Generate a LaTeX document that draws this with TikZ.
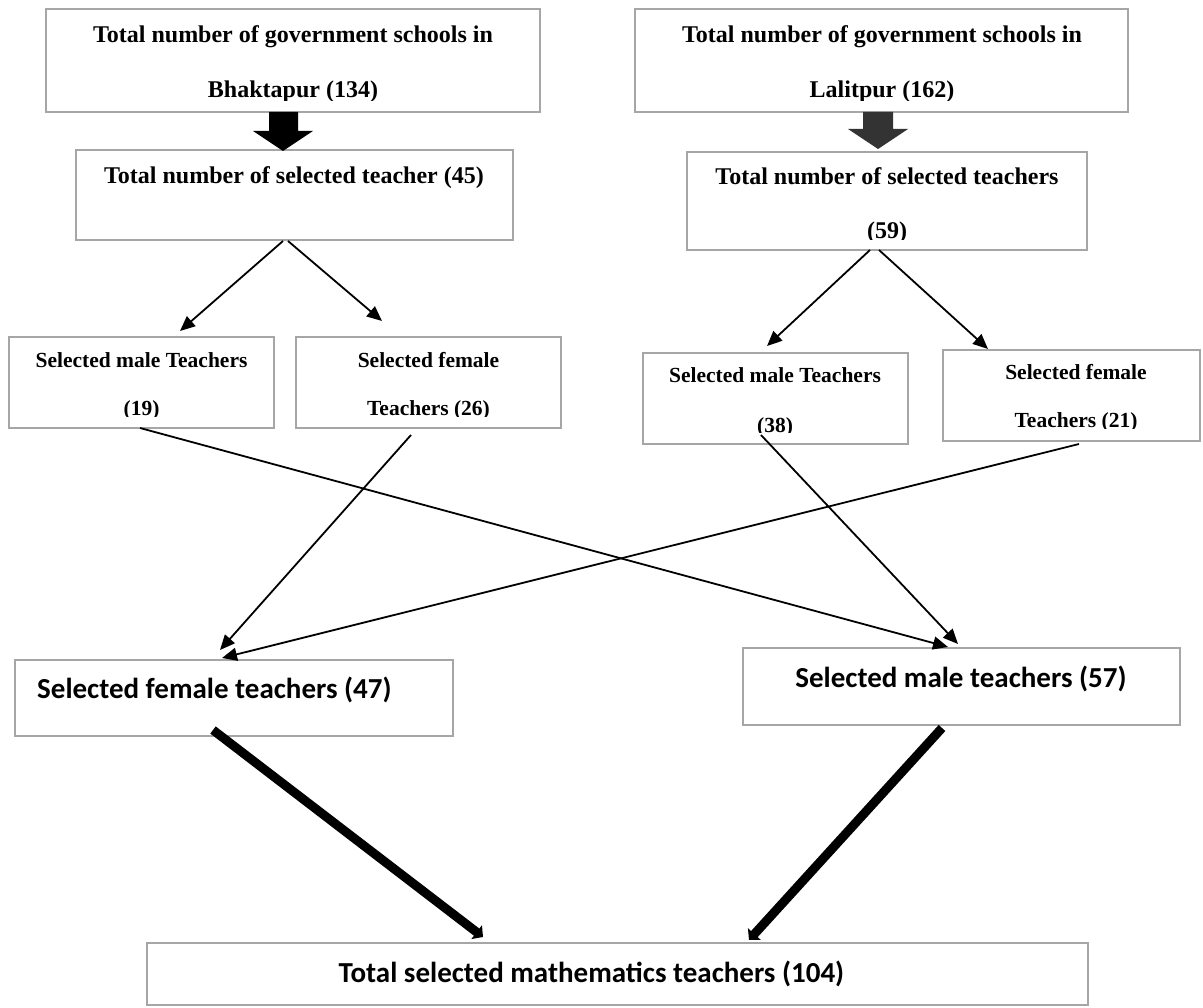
\documentclass[tikz,border=0pt]{standalone}
\usepackage{fontspec}
\usetikzlibrary{arrows.meta,calc}
\newfontfamily\tnrfont{Liberation Serif}
\newfontfamily\calfont{Carlito}
\definecolor{boxgray}{HTML}{A6A6A6}
\definecolor{darkarrow}{HTML}{333333}
\begin{document}
\begin{tikzpicture}[x=1pt,y=-1pt,
  box/.style={draw=boxgray,line width=2pt,inner sep=0pt,outer sep=0pt,anchor=north west},
  tl/.style={anchor=base,inner sep=0pt,font=\tnrfont\bfseries\fontsize{24}{24}\selectfont},
  sl/.style={anchor=base,inner sep=0pt,font=\tnrfont\bfseries\fontsize{21.5}{21.5}\selectfont},
  cl/.style={anchor=base,inner sep=0pt,font=\calfont\bfseries\fontsize{29}{29}\selectfont},
  thinarrow/.style={line width=1.8pt,-{Triangle[length=15pt,width=13pt]}},
  thickarrow/.style={line width=9pt,-{Triangle[length=8pt,width=17pt]}}
]
\fill[white] (0,0) rectangle (1203,1008);
\useasboundingbox (0,0) rectangle (1203,1008);

% ---------- boxes ----------
\node[box,minimum width=494pt,minimum height=103pt] (A) at (46,9) {};
\node[box,minimum width=493pt,minimum height=103pt] (C) at (635,9) {};
\node[box,minimum width=437pt,minimum height=90pt] (B) at (76,150) {};
\node[box,minimum width=400pt,minimum height=98pt] (D) at (687,152) {};
\node[box,minimum width=265pt,minimum height=91pt] (E) at (9,337) {};
\node[box,minimum width=265pt,minimum height=91pt] (F) at (296,337) {};
\node[box,minimum width=265pt,minimum height=91pt] (G) at (643,353) {};
\node[box,minimum width=257pt,minimum height=91pt] (H) at (943,350) {};
\node[box,minimum width=438pt,minimum height=76pt] (FT) at (15,660) {};
\node[box,minimum width=437pt,minimum height=77pt] (MT) at (743,648) {};
\node[box,minimum width=941pt,minimum height=62pt] (T) at (147,943) {};

% ---------- texts ----------
\node[tl] (A1) at (293,43) {Total number of government schools in};
\begin{scope}
  \clip ($(A.south west)+(0,-11)$) rectangle (A.north east);
  \node[tl] (A2) at (293,98) {Bhaktapur (134)};
\end{scope}
\node[tl] (C1) at (882,43) {Total number of government schools in};
\begin{scope}
  \clip ($(C.south west)+(0,-11)$) rectangle (C.north east);
  \node[tl] (C2) at (882,98) {Lalitpur (162)};
\end{scope}
\node[tl] (B1) at (294,184) {Total number of selected teacher (45)};
\node[tl] (D1) at (887,185) {Total number of selected teachers};
\begin{scope}
  \clip ($(D.south west)+(0,-10)$) rectangle (D.north east);
  \node[tl] (D2) at (887,239) {(59)};
\end{scope}
\node[sl] (E1) at (141.5,368) {Selected male Teachers};
\begin{scope}
  \clip ($(E.south west)+(0,-11)$) rectangle (E.north east);
  \node[sl] (E2) at (141.5,416) {(19)};
\end{scope}
\node[sl] (F1) at (428.5,368) {Selected female};
\begin{scope}
  \clip ($(F.south west)+(0,-11)$) rectangle (F.north east);
  \node[sl] (F2) at (428.5,416) {Teachers (26)};
\end{scope}
\node[sl] (G1) at (775,383) {Selected male Teachers};
\begin{scope}
  \clip ($(G.south west)+(0,-11)$) rectangle (G.north east);
  \node[sl] (G2) at (775,432) {(38)};
\end{scope}
\node[sl] (H1) at (1076,380) {Selected female};
\begin{scope}
  \clip ($(H.south west)+(0,-12)$) rectangle (H.north east);
  \node[sl] (H2) at (1076,428) {Teachers (21)};
\end{scope}
\node[cl,anchor=base west] (FT1) at (37,698) {Selected female teachers (47)};
\node[cl] (MT1) at (961,687) {Selected male teachers (57)};
\node[cl] (T1) at (591.5,982) {Total selected mathematics teachers (104)};

% ---------- block arrows ----------
\fill[black] (269,112) -- (298,112) -- (298,131) -- (313,131) -- (283,151)
  -- (253,131) -- (269,131) -- cycle;
\fill[darkarrow] (863,112) -- (893,112) -- (893,129) -- (908,129) -- (878,149)
  -- (848,129) -- (863,129) -- cycle;

% ---------- connector end points ----------
\coordinate (bL) at (283,241);
\coordinate (bR) at (288,241);
\coordinate (eIn) at (180,331);
\coordinate (fIn) at (382,321);
\coordinate (dL) at (870,250);
\coordinate (dR) at (879,250);
\coordinate (gIn) at (767,346);
\coordinate (hIn) at (988,349);
\coordinate (eOut) at (140,428);
\coordinate (fOut) at (411,435);
\coordinate (gOut) at (761,435);
\coordinate (hOut) at (1079,444);
\coordinate (ftIn1) at (220,650);
\coordinate (ftIn2) at (222,658);
\coordinate (mtIn1) at (948,647);
\coordinate (mtIn2) at (958,644);
\coordinate (ftOut) at (213,730);
\coordinate (mtOut) at (942,728);
\coordinate (tIn1) at (483,937);
\coordinate (tIn2) at (749,940);

% ---------- thin connectors ----------
\draw[thinarrow] (bL) -- (eIn);
\draw[thinarrow] (bR) -- (fIn);
\draw[thinarrow] (dL) -- (gIn);
\draw[thinarrow] (dR) -- (hIn);
\draw[thinarrow] (eOut) -- (mtIn1);
\draw[thinarrow] (fOut) -- (ftIn1);
\draw[thinarrow] (gOut) -- (mtIn2);
\draw[thinarrow] (hOut) -- (ftIn2);

% ---------- thick connectors ----------
\draw[thickarrow] (ftOut) -- (tIn1);
\draw[thickarrow] (mtOut) -- (tIn2);
\end{tikzpicture}
\end{document}
